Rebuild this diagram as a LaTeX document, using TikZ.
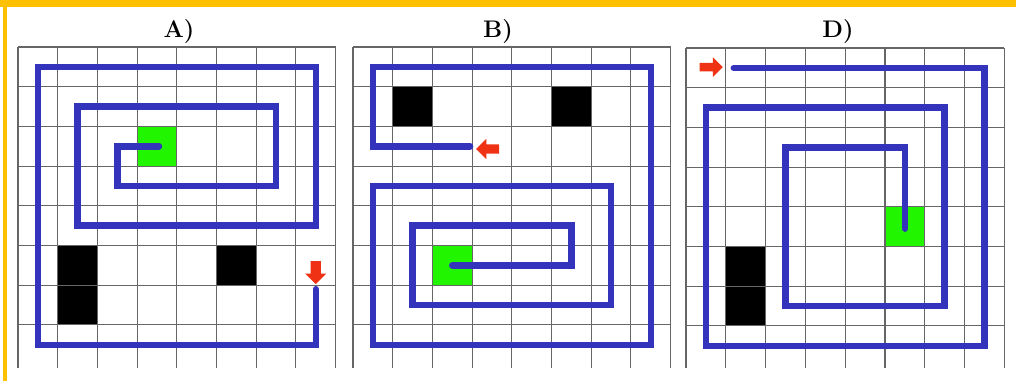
\documentclass[tikz,border=0pt]{standalone}
\usepackage{fontspec}
\usetikzlibrary{shapes.arrows}
\definecolor{ribbon}{RGB}{255,192,0}
\definecolor{route}{RGB}{51,51,187}
\definecolor{goal}{RGB}{34,245,0}
\definecolor{cue}{RGB}{240,50,20}
\begin{document}
\begin{tikzpicture}[x=1pt,y=-1pt,
  gridline/.style={draw=black!60,line width=1.1pt},
  wall/.style={fill=black},
  target/.style={fill=goal},
  robot/.style={draw=route,line width=6.5pt,line cap=round,line join=miter},
  pointer/.style={single arrow,fill=cue,inner xsep=0pt,inner ysep=5pt,minimum width=21pt,minimum height=23pt,single arrow head extend=5.5pt},
  title/.style={font=\fontsize{24}{28}\selectfont\bfseries,anchor=base,inner sep=0pt}]
\useasboundingbox (0,0) rectangle (1016,381);
\fill[white] (0,0) rectangle (1016,381);
\fill[ribbon] (0,0) rectangle (1016,6.5);
\fill[ribbon] (3,0) rectangle (7.3,381);

\node[title] (titleA) at (179,37) {A)};
\node[title] (titleB) at (498,37) {B)};
\node[title] (titleD) at (838,37) {D)};

\begin{scope}[xshift=18pt,yshift=-47pt,x=39.7pt,y=-39.7pt]
\fill[wall] (1,5) rectangle (2,6);
\fill[wall] (1,6) rectangle (2,7);
\fill[wall] (5,5) rectangle (6,6);
\fill[target] (3,2) rectangle (4,3);
\foreach \i in {0,...,8} \draw[gridline] (\i,0) -- (\i,8.08);
\foreach \j in {0,...,7} \draw[gridline] (0,\j) -- (8,\j);
\draw[robot] (7.5,6.1) -- (7.5,7.5) -- (0.5,7.5) -- (0.5,0.5) -- (7.5,0.5) -- (7.5,4.5) -- (1.5,4.5) -- (1.5,1.5) -- (6.5,1.5) -- (6.5,3.5) -- (2.5,3.5) -- (2.5,2.5) -- (3.55,2.5);
\node[pointer,rotate=-90] (startA) at (7.5,5.62) {};
\end{scope}

\begin{scope}[xshift=353pt,yshift=-47pt,x=39.7pt,y=-39.7pt]
\fill[wall] (1,1) rectangle (2,2);
\fill[wall] (5,1) rectangle (6,2);
\fill[target] (2,5) rectangle (3,6);
\foreach \i in {0,...,8} \draw[gridline] (\i,0) -- (\i,8.08);
\foreach \j in {0,...,7} \draw[gridline] (0,\j) -- (8,\j);
\draw[robot] (2.95,2.5) -- (0.5,2.5) -- (0.5,0.5) -- (7.5,0.5) -- (7.5,7.5) -- (0.5,7.5) -- (0.5,3.5) -- (6.5,3.5) -- (6.5,6.5) -- (1.5,6.5) -- (1.5,4.5) -- (5.5,4.5) -- (5.5,5.5) -- (2.5,5.5);
\node[pointer,rotate=180,inner ysep=4.5pt,minimum width=18pt] (startB) at (3.45,2.57) {};
\end{scope}

\begin{scope}[xshift=686pt,yshift=-48pt,x=39.8pt,y=-39.7pt]
\fill[wall] (1,5) rectangle (2,6);
\fill[wall] (1,6) rectangle (2,7);
\fill[target] (5,4) rectangle (6,5);
\foreach \i in {0,...,8} \draw[gridline] (\i,0) -- (\i,8.05);
\foreach \j in {0,...,7} \draw[gridline] (0,\j) -- (8,\j);
\draw[robot] (1.2,0.5) -- (7.5,0.5) -- (7.5,7.5) -- (0.5,7.5) -- (0.5,1.5) -- (6.5,1.5) -- (6.5,6.5) -- (2.5,6.5) -- (2.5,2.5) -- (5.5,2.5) -- (5.5,4.55);
\node[pointer,inner ysep=4pt,minimum width=16pt] (startD) at (0.58,0.48) {};
\end{scope}
\end{tikzpicture}
\end{document}
